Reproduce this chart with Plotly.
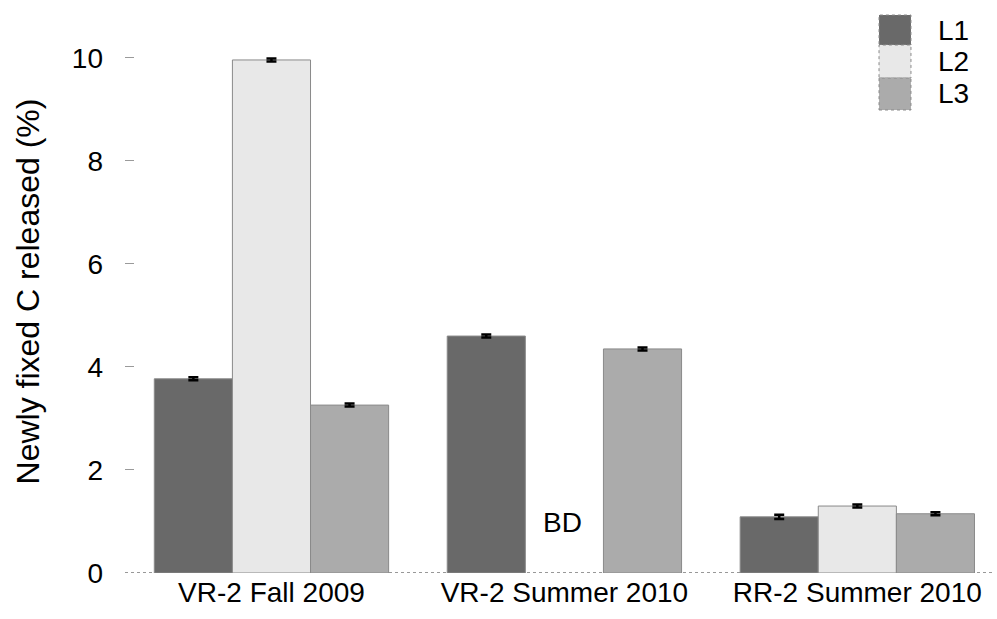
import plotly.graph_objects as go

# Sampling sites / seasons on the x axis
categories = ["VR-2 Fall 2009", "VR-2 Summer 2010", "RR-2 Summer 2010"]

# Newly fixed C released (%) for each layer; None = below detection (BD)
l1_values = [3.77, 4.60, 1.09]
l2_values = [9.96, None, 1.30]
l3_values = [3.26, 4.35, 1.15]

# Standard errors
l1_err = [0.03, 0.03, 0.04]
l2_err = [0.03, 0.0, 0.03]
l3_err = [0.03, 0.03, 0.03]

series_names = ["L1", "L2", "L3"]
series_colors = ["#696969", "#e8e8e8", "#ababab"]

y_ticks = [0, 2, 4, 6, 8, 10]
bd_label = "BD"

FONT = "Liberation Sans, Arial, sans-serif"

fig = go.Figure()
for name, vals, errs, col in zip(series_names,
                                 [l1_values, l2_values, l3_values],
                                 [l1_err, l2_err, l3_err],
                                 series_colors):
    fig.add_trace(go.Bar(
        x=categories, y=vals, name=name,
        marker=dict(color=col, line=dict(color="#8a8a8a", width=1)),
        error_y=dict(type="data", array=errs, visible=True,
                     color="black", thickness=2.5, width=5),
        showlegend=False,
    ))

# "BD" marker where the L2 bar is missing
fig.add_annotation(x=categories[1], y=0.98, text=bd_label, showarrow=False,
                   xshift=-2, font=dict(size=28, color="black", family=FONT))

# Dotted baseline along the x axis
fig.add_shape(type="line", xref="paper", yref="y", x0=0, x1=1, y0=0, y1=0,
              line=dict(color="#777777", width=1.5, dash="dot"), layer="below")

# Legend drawn as large swatches with labels
sw_x0, sw_x1 = 0.8667, 0.9034
sw_edges = [0.9911, 0.9378, 0.8792, 0.8224]
for i, (name, col) in enumerate(zip(series_names, series_colors)):
    fig.add_shape(type="rect", xref="paper", yref="paper",
                  x0=sw_x0, x1=sw_x1, y0=sw_edges[i + 1], y1=sw_edges[i],
                  fillcolor=col, line=dict(color="#8a8a8a", width=1, dash="dot"))
    fig.add_annotation(xref="paper", yref="paper", x=0.932,
                       y=(sw_edges[i] + sw_edges[i + 1]) / 2,
                       text=name, showarrow=False, xanchor="left", yanchor="middle",
                       font=dict(size=28, color="black", family=FONT))

fig.update_layout(
    width=997, height=619,
    margin=dict(l=125, r=2, t=10, b=46),
    paper_bgcolor="white", plot_bgcolor="white",
    barmode="group", bargap=0.2, bargroupgap=0,
    font=dict(family=FONT, color="black"),
)
fig.update_xaxes(
    range=[-0.5, 2.47], showgrid=False, showline=False, zeroline=False,
    ticks="", tickfont=dict(size=28, family=FONT),
)
fig.update_yaxes(
    range=[0, 10.93], tickvals=y_ticks, showgrid=False, showline=False,
    zeroline=False, ticks="inside", ticklen=9, tickcolor="#9a9a9a", tickwidth=1,
    ticklabelstandoff=21, tickfont=dict(size=28, family=FONT),
    title=dict(text="Newly fixed C released (%)", standoff=22,
               font=dict(size=32, family=FONT)),
)

fig.write_html("out.html")
